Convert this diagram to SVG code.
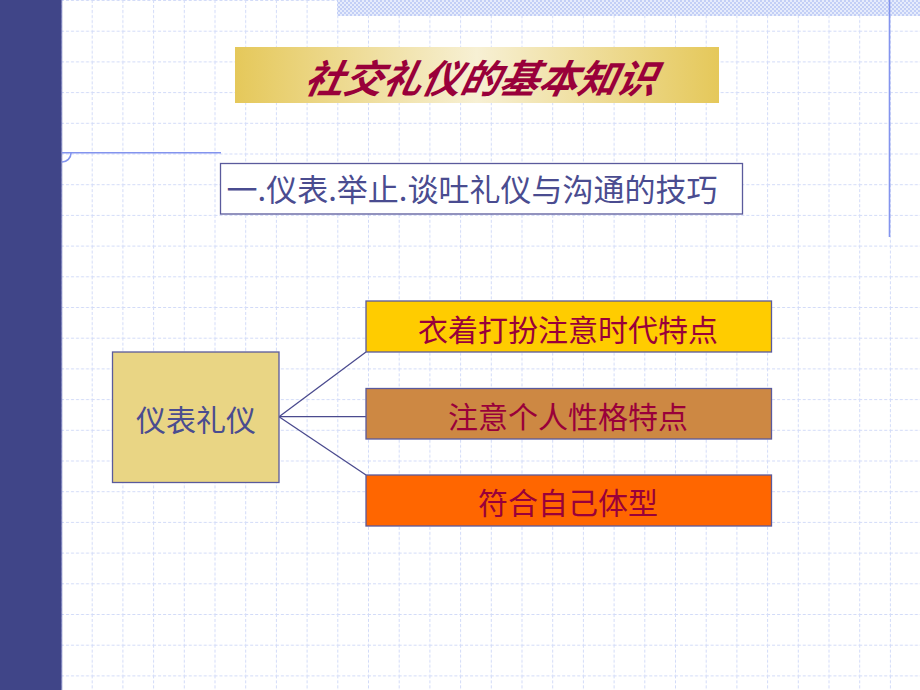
<svg xmlns="http://www.w3.org/2000/svg" width="920" height="690" viewBox="0 0 920 690">
<defs>
<style>
.grid{stroke:#d2dbf8;stroke-width:1;stroke-dasharray:3 2;fill:none}
.node{stroke:#5a5a9c;stroke-width:1.3}
.conn{stroke:#4a4a8e;stroke-width:1.3;fill:none}
.accent{stroke:#8394ee;stroke-width:1.6;fill:none}
.cjk{font-family:"Noto Sans CJK SC","Noto Sans CJK TC",sans-serif}
.blue{fill:#4a4c90}
.red{fill:#99003a}
</style>
<pattern id="grid" patternUnits="userSpaceOnUse" x="61" y="0" width="30.7" height="30.7">
<line class="grid" x1="0.5" y1="0" x2="0.5" y2="30.7"/>
<line class="grid" x1="0" y1="0.5" x2="30.7" y2="0.5"/>
</pattern>
<pattern id="hatch" patternUnits="userSpaceOnUse" width="4" height="4">
<rect width="4" height="4" fill="#e6ecfc"/>
<rect width="2" height="2" fill="#c3cff6"/>
<rect x="2" y="2" width="2" height="2" fill="#c3cff6"/>
</pattern>
<linearGradient id="titleGrad" x1="0" y1="0" x2="1" y2="0">
<stop offset="0" stop-color="#e5c85a"/>
<stop offset="0.5" stop-color="#f7f0d4"/>
<stop offset="1" stop-color="#e5c85a"/>
</linearGradient>
</defs>
<rect width="920" height="690" fill="#ffffff"/>
<rect x="61" y="0" width="859" height="690" fill="url(#grid)"/>
<rect x="337" y="0" width="583" height="16" fill="url(#hatch)"/>
<rect x="0" y="0" width="61.5" height="690" fill="#404588"/>
<line x1="61.8" y1="0" x2="61.8" y2="690" stroke="#6c72b4" stroke-width="0.8"/>
<line class="accent" x1="889.5" y1="0" x2="889.5" y2="237"/>
<line class="accent" x1="62" y1="152.7" x2="221" y2="152.7"/>
<path class="accent" d="M71,153 A9,9 0 0 1 62,162"/>

<g id="title">
<rect x="235" y="47" width="484" height="56" fill="url(#titleGrad)"/>
<text x="480" y="93" text-anchor="middle" class="cjk red" font-size="39" font-weight="bold" font-style="italic" transform="translate(480 0) skewX(-12) translate(-480 0) translate(18 0)">社交礼仪的基本知识</text>
</g>

<g id="subtitle">
<rect x="220.5" y="163.5" width="522" height="50.5" fill="#ffffff" class="node"/>
<text x="472" y="201" text-anchor="middle" class="cjk blue" font-size="31">一.仪表.举止.谈吐礼仪与沟通的技巧</text>
</g>

<g id="connectors">
<line class="conn" x1="279" y1="416.7" x2="366" y2="352"/>
<line class="conn" x1="279" y1="416.7" x2="366" y2="416.7"/>
<line class="conn" x1="279" y1="416.7" x2="366" y2="475"/>
</g>

<g id="root">
<rect x="112.5" y="352" width="166.5" height="130.5" fill="#e9d584" class="node"/>
<text x="196" y="431" text-anchor="middle" class="cjk blue" font-size="30">仪表礼仪</text>
</g>

<g id="item1">
<rect x="366" y="301" width="405.5" height="51" fill="#ffcc00" class="node"/>
<text x="568" y="341" text-anchor="middle" class="cjk red" font-size="30">衣着打扮注意时代特点</text>
</g>

<g id="item2">
<rect x="366" y="388.5" width="405.5" height="50.5" fill="#cd8843" class="node"/>
<text x="568" y="428" text-anchor="middle" class="cjk red" font-size="30">注意个人性格特点</text>
</g>

<g id="item3">
<rect x="366" y="475" width="405.5" height="51" fill="#ff6600" class="node"/>
<text x="568" y="514" text-anchor="middle" class="cjk red" font-size="30">符合自己体型</text>
</g>
</svg>
